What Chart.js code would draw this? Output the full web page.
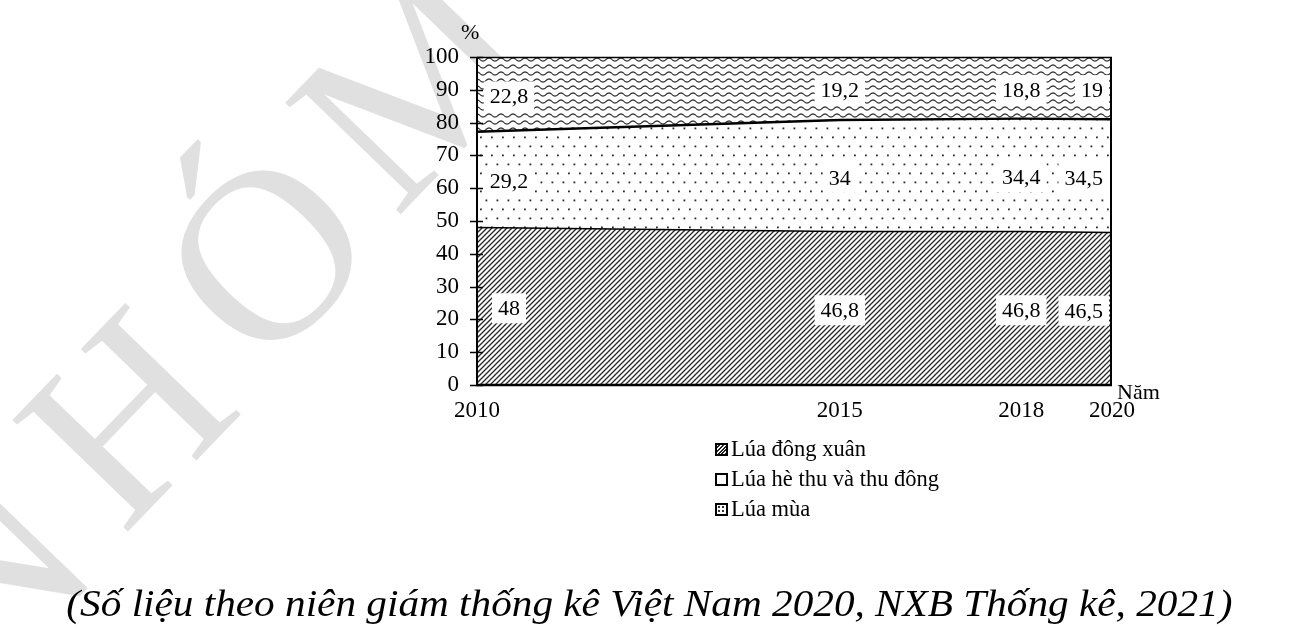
<!DOCTYPE html>
<html><head><meta charset="utf-8">
<script src="https://cdn.jsdelivr.net/npm/chart.js@4.4.1/dist/chart.umd.min.js"></script>
<style>
html,body{margin:0;padding:0;background:#fff;width:1316px;height:634px;overflow:hidden;font-family:"Liberation Serif","DejaVu Serif",serif;color:#000;}
#wrap{position:relative;width:1316px;height:634px;}
#wm{position:absolute;left:0;top:0;width:1316px;height:634px;z-index:0;pointer-events:none;}
#wm span{position:absolute;font-size:245px;line-height:245px;font-family:"Liberation Serif",serif;color:#e0e0e0;transform:translate(-50%,-60%) rotate(-46deg);white-space:nowrap;}
#c{position:absolute;left:0;top:0;z-index:1;}
.lbl{position:absolute;font-size:22px;line-height:24px;white-space:nowrap;z-index:2;}
#legend{position:absolute;left:715px;top:434px;font-size:22.5px;z-index:2;}
#legend .row{height:30px;line-height:30px;display:flex;align-items:center;white-space:nowrap;}
#legend .mk{display:inline-block;width:9px;height:9px;border:2px solid #000;margin-right:3px;background:#fff;}
#caption{position:absolute;left:-18px;width:1334px;top:580px;text-align:center;z-index:2;}
#caption span{display:inline-block;font-style:italic;font-size:38px;line-height:46px;white-space:nowrap;transform-origin:50% 50%;}
</style></head>
<body>
<div id="wrap">
<div id="wm"><span style="left:-15px;top:600px;">N</span><span style="left:125px;top:440px;">H</span><span style="left:265px;top:278px;">Ó</span><span style="left:412px;top:108px;">M</span></div>
<canvas id="c" width="1316" height="634"></canvas>
<div class="lbl" id="pct" style="left:461px;top:20px;">%</div>
<div class="lbl" id="nam" style="left:1117px;top:380px;">Năm</div>
<div id="legend"></div>
<div id="caption"><span id="capt">(Số liệu theo niên giám thống kê Việt Nam 2020, NXB Thống kê, 2021)</span></div>
</div>
<script>
// ---- data ----
const years = ['2010', '2015', '2018', '2020'];
const xPos = [0, 4, 6, 7]; // relative spacing of the years on the axis
const dongXuan = [48, 46.8, 46.8, 46.5];
const heThu = [29.2, 34, 34.4, 34.5];
const luaMua = [22.8, 19.2, 18.8, 19];
const seriesNames = ['Lúa đông xuân', 'Lúa hè thu và thu đông', 'Lúa mùa'];
const yTicks = [0, 10, 20, 30, 40, 50, 60, 70, 80, 90, 100];

// ---- patterns ----
function makePattern(w, h, draw) {
  const c = document.createElement('canvas');
  c.width = w; c.height = h;
  const g = c.getContext('2d');
  g.fillStyle = '#fff'; g.fillRect(0, 0, w, h);
  draw(g, w, h);
  return document.getElementById('c').getContext('2d').createPattern(c, 'repeat');
}
const hatch = makePattern(5, 5, (g, w, h) => {
  g.strokeStyle = '#2a2a2a'; g.lineWidth = 1.35; g.lineCap = 'square';
  g.beginPath();
  g.moveTo(-1, h + 1); g.lineTo(w + 1, -1);
  g.moveTo(-1 - w, h + 1); g.lineTo(1, -1);
  g.moveTo(w - 1, h + 1); g.lineTo(2 * w + 1, -1);
  g.stroke();
});
const dots = makePattern(11, 18, (g) => {
  g.fillStyle = '#2a2a2a';
  g.fillRect(1.5, 1.5, 1.8, 1.8);
  g.fillRect(7, 10.5, 1.8, 1.8);
});
const waves = makePattern(12, 7, (g, w, h) => {
  g.strokeStyle = '#2e2e2e'; g.lineWidth = 1.25;
  g.beginPath();
  for (let x = 0; x <= w; x += 0.5) {
    const y = 3.5 + 1.5 * Math.sin(2 * Math.PI * x / w);
    if (x === 0) g.moveTo(x, y); else g.lineTo(x, y);
  }
  g.stroke();
});

const toPts = arr => arr.map((v, i) => ({x: xPos[i], y: v}));
const fontY = {family: '"Liberation Serif", "DejaVu Serif", serif', size: 23};
const fontX = {family: '"Liberation Serif", "DejaVu Serif", serif', size: 23};

const decorPlugin = {
  id: 'decor',
  afterDatasetsDraw(chart) {
    const {ctx, chartArea: a, scales: {x, y}} = chart;
    const sets = chart.data.datasets;
    ctx.save();
    // data labels
    ctx.font = '22px "Liberation Serif", serif';
    ctx.textBaseline = 'middle';
    ctx.textAlign = 'center';
    for (let j = 0; j < xPos.length; j++) {
      let base = 0;
      for (let i = 0; i < sets.length; i++) {
        const v = sets[i].data[j].y;
        const mid = base + v / 2;
        base += v;
        const txt = String(v).replace('.', ',');
        const tw = ctx.measureText(txt).width;
        const bw = tw + 12, bh = 30;
        let cx = x.getPixelForValue(xPos[j]);
        if (j === 0) cx = cx + 32;
        if (j === xPos.length - 1) cx = cx - 3 - bw / 2;
        const cy = y.getPixelForValue(mid) + 2;
        ctx.fillStyle = '#fff';
        ctx.fillRect(cx - bw / 2, cy - bh / 2, bw, bh);
        ctx.fillStyle = '#000';
        ctx.fillText(txt, cx, cy + 1);
      }
    }
    // plot border
    ctx.strokeStyle = '#000';
    ctx.lineWidth = 1.5;
    ctx.beginPath();
    ctx.moveTo(a.left, a.top + 0.5); ctx.lineTo(a.right, a.top + 0.5);
    ctx.stroke();
    ctx.lineWidth = 2;
    ctx.beginPath();
    ctx.moveTo(a.right - 1, a.top); ctx.lineTo(a.right - 1, a.bottom);
    ctx.stroke();
    ctx.lineWidth = 2.5;
    ctx.beginPath();
    ctx.moveTo(a.left - 1, a.bottom); ctx.lineTo(a.right, a.bottom);
    ctx.stroke();
    ctx.lineWidth = 2;
    ctx.beginPath();
    ctx.moveTo(a.left, a.top); ctx.lineTo(a.left, a.bottom);
    ctx.stroke();
    // tick marks crossing the axis
    ctx.lineWidth = 1.5;
    ctx.beginPath();
    y.ticks.forEach(t => {
      const py = Math.round(y.getPixelForValue(t.value)) + 0.5;
      ctx.moveTo(a.left - 7, py); ctx.lineTo(a.left + 6, py);
    });
    ctx.stroke();
    ctx.restore();
  }
};

new Chart(document.getElementById('c'), {
  type: 'line',
  data: {
    datasets: [
      {label: seriesNames[0], data: toPts(dongXuan), fill: 'origin', backgroundColor: hatch, borderColor: '#000', borderWidth: 1.6, pointRadius: 0, tension: 0},
      {label: seriesNames[1], data: toPts(heThu), fill: '-1', backgroundColor: dots, borderColor: '#000', borderWidth: 2.4, pointRadius: 0, tension: 0},
      {label: seriesNames[2], data: toPts(luaMua), fill: '-1', backgroundColor: waves, borderColor: 'rgba(0,0,0,0)', borderWidth: 0, pointRadius: 0, tension: 0}
    ]
  },
  options: {
    responsive: false,
    animation: false,
    devicePixelRatio: 1,
    layout: {padding: {left: 0, right: 204, top: 57, bottom: 0}},
    plugins: {legend: {display: false}, tooltip: {enabled: false}},
    scales: {
      x: {
        type: 'linear', min: 0, max: 7,
        afterBuildTicks: s => { s.ticks = xPos.map(v => ({value: v})); },
        afterFit: s => { s.height = 249; },
        ticks: {autoSkip: false, maxRotation: 0, padding: 12, color: '#000', font: fontX,
          callback: v => { const i = xPos.indexOf(v); return i >= 0 ? years[i] : ''; }},
        grid: {display: false, drawTicks: false},
        border: {display: false}
      },
      y: {
        stacked: true, min: 0, max: 100,
        afterBuildTicks: s => { s.ticks = yTicks.map(v => ({value: v})); },
        afterFit: s => { s.width = 477; },
        ticks: {color: '#000', font: fontY, padding: 18},
        grid: {display: false, drawOnChartArea: false, drawTicks: false},
        border: {display: false}
      }
    }
  },
  plugins: [decorPlugin]
});

// legend (HTML)
const mkStyles = [
  'background:repeating-linear-gradient(135deg,#fff 0 1.2px,#222 1.2px 2.6px);',
  'background:#fff;',
  'background:radial-gradient(#333 35%, transparent 40%) 0 0/4px 4px,#fff;'
];
const lg = document.getElementById('legend');
seriesNames.forEach((n, i) => {
  const r = document.createElement('div');
  r.className = 'row';
  r.innerHTML = '<span class="mk" style="' + mkStyles[i] + '"></span><span>' + n + '</span>';
  lg.appendChild(r);
});
// stretch caption to the reference width
const cap = document.getElementById('capt');
const cw = cap.getBoundingClientRect().width;
cap.style.transform = 'scaleX(' + (1166 / cw) + ')';
</script>
</body></html>
